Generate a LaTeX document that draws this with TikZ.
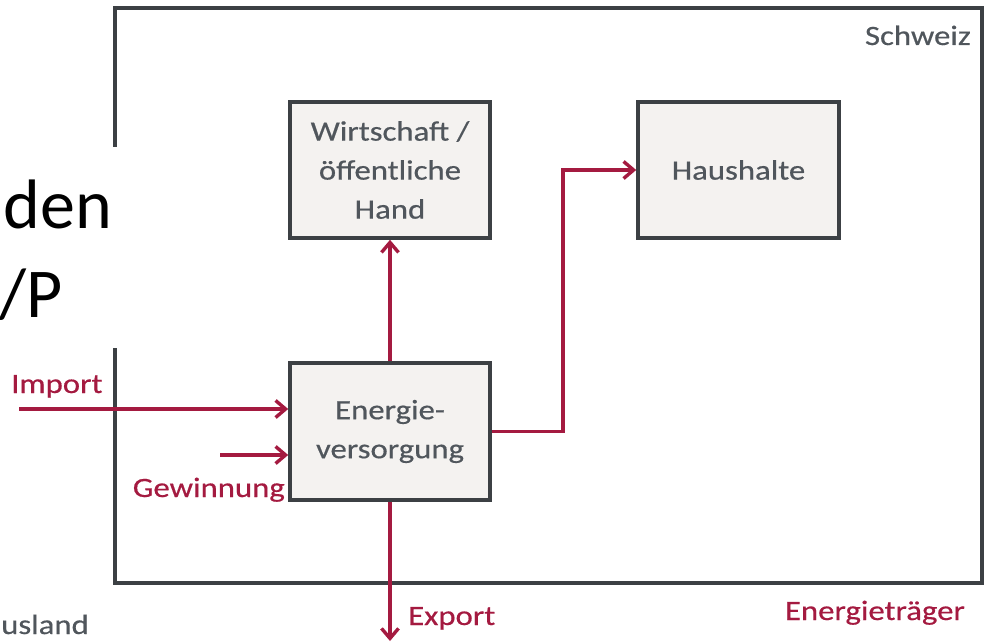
\documentclass[tikz,border=0pt]{standalone}
\usepackage{fontspec}
\setmainfont{Carlito}
\newfontfamily\diagfont[FakeStretch=1.17,FakeBold=0.5]{Carlito}
\newfontfamily\slidefont{Carlito}
\usetikzlibrary{arrows.meta}
\definecolor{flow}{RGB}{164,26,64}
\definecolor{txtgray}{RGB}{80,86,92}
\definecolor{bordergray}{RGB}{60,64,68}
\definecolor{boxfill}{RGB}{244,242,240}
\tikzset{
  unit/.style={draw=bordergray, line width=3.6pt, fill=boxfill, rectangle,
    inner sep=0pt, align=center, text=txtgray,
    font=\diagfont\fontsize{28}{39}\selectfont},
  flowarrow/.style={draw=flow, line width=3.4pt,
    -{Straight Barb[length=10pt,width=17pt]}},
  flowlabel/.style={inner sep=0pt, text=flow,
    font=\diagfont\fontsize{28}{39}\selectfont},
  graylabel/.style={inner sep=0pt, text=txtgray,
    font=\diagfont\fontsize{28}{39}\selectfont},
  slidetext/.style={inner sep=0pt, text=black,
    font=\slidefont\fontsize{70}{88}\selectfont}
}
\begin{document}
\begin{tikzpicture}[x=1pt,y=-1pt]
\useasboundingbox (0,0) rectangle (990,642);
% outer frame (Schweiz)
\draw[bordergray, line width=3.6pt] (115,8) rectangle (982,583);
% white overlay of the slide
\fill[white] (-2,147) rectangle (126,348);
\node[slidetext, anchor=base east] (den) at (112,228) {den};
\node[slidetext, anchor=base east] (slp) at (63,317) {/P};
% boxes
\node[unit, minimum width=200pt, minimum height=136pt] (wirt) at (390,170)
  {Wirtschaft /\\öffentliche\\Hand};
\node[unit, minimum width=201pt, minimum height=136pt] (haus) at (738.5,170)
  {Haushalte};
\node[unit, minimum width=200pt, minimum height=137pt] (energ) at (390,431.5)
  {Energie-\\versorgung};
% connector helper points
\coordinate (imp) at (19,409);
\coordinate (gew) at (220,455);
\coordinate (exp) at (390,641);
\coordinate (kink) at (563,300);
% flows
\draw[flowarrow] (energ.north) -- (wirt.south);
\draw[flowarrow] (energ.east) -| (kink) |- (haus.west);
\draw[flowarrow] (imp) -- (imp -| energ.west);
\draw[flowarrow] (gew) -- (gew -| energ.west);
\draw[flowarrow] (energ.south) -- (exp);
% labels
\node[flowlabel, anchor=base west] (limp) at (11,393) {Import};
\node[flowlabel, anchor=base east] (lgew) at (285,497) {Gewinnung};
\node[flowlabel, anchor=base west] (lexp) at (408,625) {Export};
\node[flowlabel, anchor=base east] (let) at (965,620) {Energieträger};
\node[graylabel, anchor=base east] (lch) at (971,45) {Schweiz};
\node[graylabel, anchor=base west] (laus) at (1,634) {usland};
\end{tikzpicture}
\end{document}
